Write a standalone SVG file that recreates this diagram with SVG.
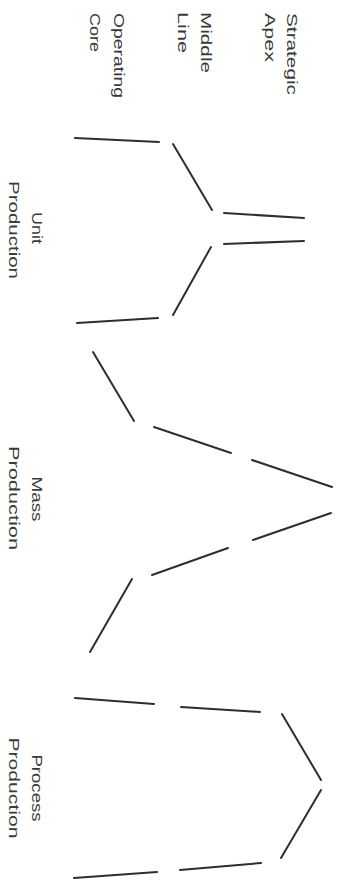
<svg xmlns="http://www.w3.org/2000/svg" width="345" height="883" viewBox="0 0 345 883">
<style>
  .t{font-family:"Liberation Sans",Arial,sans-serif;font-size:15px;fill:#3a3a3a}
  .m{text-anchor:middle}
  line{stroke:#2e2e2e;stroke-width:2;stroke-linecap:round}
</style>
<rect width="345" height="883" fill="#ffffff"/>
<g id="legend">
  <g id="label-apex" transform="translate(287,13) rotate(90)">
    <text class="t" x="0" y="0" textLength="82" lengthAdjust="spacingAndGlyphs">Strategic</text>
    <text class="t" x="0" y="22" textLength="49" lengthAdjust="spacingAndGlyphs">Apex</text>
  </g>
  <g id="label-middle" transform="translate(201,12) rotate(90)">
    <text class="t" x="0" y="0" textLength="61" lengthAdjust="spacingAndGlyphs">Middle</text>
    <text class="t" x="0" y="23" textLength="41" lengthAdjust="spacingAndGlyphs">Line</text>
  </g>
  <g id="label-core" transform="translate(114,13) rotate(90)">
    <text class="t" x="0" y="0" textLength="85" lengthAdjust="spacingAndGlyphs">Operating</text>
    <text class="t" x="0" y="24" textLength="39" lengthAdjust="spacingAndGlyphs">Core</text>
  </g>
</g>
<g id="unit-production">
  <g transform="translate(32,230) rotate(90)">
    <text class="t m" x="-2" y="0" textLength="32" lengthAdjust="spacingAndGlyphs">Unit</text>
    <text class="t m" x="0" y="23" textLength="98" lengthAdjust="spacingAndGlyphs">Production</text>
  </g>
  <line x1="75" y1="138" x2="159" y2="142"/>
  <line x1="173" y1="144" x2="212" y2="210"/>
  <line x1="224" y1="213" x2="304" y2="218"/>
  <line x1="224" y1="244" x2="304" y2="241"/>
  <line x1="211" y1="247" x2="173" y2="315"/>
  <line x1="77" y1="323" x2="158" y2="318"/>
</g>
<g id="mass-production">
  <g transform="translate(32,498) rotate(90)">
    <text class="t m" x="1" y="0" textLength="45" lengthAdjust="spacingAndGlyphs">Mass</text>
    <text class="t m" x="0" y="23" textLength="104" lengthAdjust="spacingAndGlyphs">Production</text>
  </g>
  <line x1="93" y1="352" x2="134" y2="421"/>
  <line x1="154" y1="427" x2="231" y2="453"/>
  <line x1="252" y1="460" x2="332" y2="487"/>
  <line x1="331" y1="513" x2="253" y2="540"/>
  <line x1="228" y1="548" x2="152" y2="575"/>
  <line x1="132" y1="579" x2="90" y2="652"/>
</g>
<g id="process-production">
  <g transform="translate(32,788) rotate(90)">
    <text class="t m" x="0" y="0" textLength="67" lengthAdjust="spacingAndGlyphs">Process</text>
    <text class="t m" x="0" y="23" textLength="101" lengthAdjust="spacingAndGlyphs">Production</text>
  </g>
  <line x1="75" y1="698" x2="154" y2="704"/>
  <line x1="181" y1="707" x2="260" y2="712"/>
  <line x1="282" y1="714" x2="321" y2="780"/>
  <line x1="321" y1="790" x2="281" y2="858"/>
  <line x1="261" y1="863" x2="180" y2="870"/>
  <line x1="157" y1="872" x2="74" y2="878"/>
</g>
</svg>
